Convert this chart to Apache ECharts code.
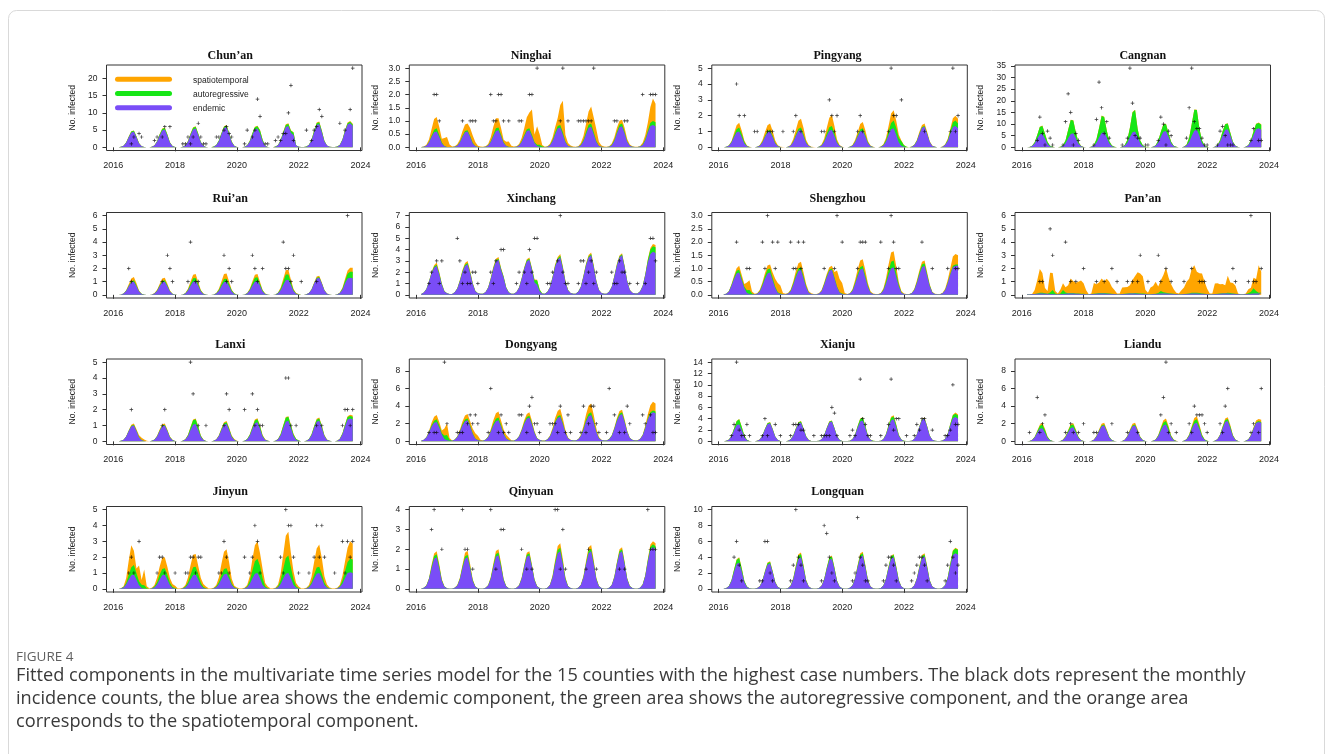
<!DOCTYPE html>
<html><head><meta charset="utf-8">
<script src="https://cdn.jsdelivr.net/npm/echarts@6/dist/echarts.min.js"></script>
<style>html,body{margin:0;padding:0;background:#fff}#c{width:1333px;height:754px}</style>
</head><body><div id="c"></div>
<script>
// Monthly series, March 2016 .. October 2023 (92 months). Rows: 2016(Mar-Dec), 2017..2022, 2023(Jan-Oct)
const xTicks = [2016, 2018, 2020, 2022, 2024];

const chunanEnd = [
 .05,.15,.45,1.35,2.9,4.3,4.5,2.9,1.1,.3,
 .1,.05,.05,.15,.5,1.6,3.4,4.9,5.2,3.4,1.3,.35,
 .1,.05,.05,.15,.55,1.65,3.6,5.2,5.5,3.6,1.4,.4,
 .1,.05,.05,.2,.6,1.8,3.8,5.6,5.9,3.8,1.5,.4,
 .1,.05,.05,.15,.55,1.65,3.6,5.2,5.5,4.0,1.8,.4,
 .1,.05,.05,.2,.6,1.9,4.0,5.9,6.2,4.2,3.6,.5,
 .15,.07,.07,.2,.7,2.0,4.4,6.5,6.8,4.4,1.7,.5,
 .15,.07,.07,.2,.7,2.1,4.6,6.6,7.0,6.3];
const chunanAR = [
 0,0,.02,.08,.2,.3,.3,.25,.1,.03,
 0,0,0,.01,.05,.15,.3,.4,.4,.3,.12,.03,
 0,0,0,.01,.05,.15,.3,.5,.5,.35,.12,.03,
 0,0,0,.01,.05,.15,.3,.4,.45,.35,.12,.03,
 0,0,0,.01,.05,.2,.4,.6,.6,.9,.4,.05,
 .02,0,0,.01,.05,.2,.4,.6,.6,.6,.7,.1,
 .02,0,0,.01,.05,.2,.4,.5,.5,.4,.15,.03,
 0,0,0,.01,.05,.15,.3,.4,.4,.35];
const chunanST = [
 0,0,0,.02,.05,.1,.1,.1,.05,.02,
 0,0,0,0,.02,.05,.1,.15,.15,.1,.05,.02,
 0,0,0,0,.02,.05,.1,.15,.15,.1,.05,.02,
 0,0,0,0,.02,.05,.1,.15,.15,.1,.05,.02,
 0,0,0,0,.02,.05,.1,.2,.2,.15,.05,.02,
 0,0,0,0,.02,.05,.1,.2,.2,.15,.1,.02,
 0,0,0,0,.02,.05,.1,.2,.2,.1,.05,.02,
 0,0,0,0,.02,.05,.1,.2,.25,.2];
const chunanObs = [
 0,0,0,0,0,1,3,0,4,3,
 0,0,0,0,2,3,0,3,6,0,6,0,
 0,0,0,1,1,3,1,3,0,7,3,1,
 1,0,0,0,3,3,0,5,6,4,3,0,
 0,0,0,1,5,0,3,5,14,9,0,1,
 1,0,0,2,3,2,4,4,10,18,2,0,
 0,0,0,5,0,2,5,6,11,9,0,0,
 0,0,0,0,7,0,5,0,11,23];
const chunanTicks = [0,5,10,15,20];

const ninghaiEnd = [
 .01,.02,.06,.18,.39,.57,.6,.39,.15,.04,
 .01,.01,.01,.02,.06,.18,.39,.57,.6,.39,.15,.04,
 .01,.01,.01,.02,.07,.2,.42,.62,.65,.42,.16,.05,
 .01,.01,.01,.02,.07,.2,.42,.62,.65,.42,.16,.05,
 .02,.01,.01,.02,.08,.23,.49,.71,.75,.49,.19,.05,
 .02,.01,.01,.02,.08,.23,.5,.74,.78,.5,.2,.05,
 .02,.01,.01,.02,.08,.24,.52,.76,.8,.52,.2,.06,
 .02,.01,.01,.03,.09,.26,.55,.81,.85,.8];
const ninghaiAR = [
 0,0,0,.02,.05,.1,.12,.08,.03,.01,
 0,0,0,0,.01,.02,.04,.05,.05,.04,.02,.01,
 0,0,0,0,.01,.03,.06,.1,.1,.06,.03,.01,
 .01,0,0,0,.01,.03,.05,.07,.07,.06,.03,.05,
 .08,.03,0,0,.01,.04,.07,.1,.1,.08,.03,.01,
 0,0,0,0,.02,.05,.08,.12,.12,.08,.04,.01,
 0,0,0,0,.02,.04,.07,.1,.1,.06,.02,.01,
 0,0,0,0,.02,.05,.08,.12,.15,.15];
const ninghaiST = [
 0,.01,.04,.1,.25,.4,.43,.3,.15,.3,
 .38,.1,.02,.02,.05,.1,.18,.25,.25,.3,.28,.15,
 .05,.02,.01,.02,.05,.15,.3,.38,.35,.25,.1,.15,
 .2,.05,.02,.02,.05,.12,.25,.45,.6,.95,.3,.7,
 .4,.05,.01,.02,.05,.1,.2,.3,.75,1.2,.25,.1,
 .05,.02,.01,.02,.06,.15,.3,.5,.65,.55,.45,.15,
 .05,.02,.01,.02,.05,.1,.15,.15,.15,.15,.1,.04,
 .02,.01,.01,.02,.06,.15,.3,.6,.85,.7];
const ninghaiObs = [
 0,0,0,0,0,2,2,1,0,0,
 0,0,0,0,0,0,1,0,0,1,1,1,
 0,0,0,0,0,2,1,1,2,2,1,0,
 1,0,0,0,1,1,0,0,2,2,0,3,
 0,0,0,0,0,0,0,0,1,3,0,1,
 0,0,0,1,1,1,1,1,1,3,0,0,
 0,0,0,0,0,1,1,0,0,1,1,0,
 0,0,0,0,2,0,0,2,2,2];
const ninghaiTicks = [0,0.5,1,1.5,2,2.5,3];

const pingyangEnd = [
 .01,.03,.1,.3,.65,.95,1,.65,.25,.07,
 .02,.01,.01,.03,.1,.3,.65,.95,1,.65,.25,.07,
 .02,.01,.01,.03,.11,.33,.72,1.05,1.1,.72,.28,.08,
 .02,.01,.01,.03,.11,.33,.72,1.05,1.1,.72,.28,.08,
 .02,.01,.01,.03,.1,.32,.68,1.0,1.05,.68,.26,.07,
 .02,.01,.01,.04,.12,.36,.78,1.14,1.2,.78,.3,.08,
 .03,.01,.01,.04,.13,.39,.85,1.24,1.3,.85,.33,.09,
 .03,.01,.01,.04,.14,.4,.88,1.28,1.35,1.2];
const pingyangAR = [
 0,0,.01,.03,.1,.2,.25,.2,.08,.02,
 0,0,0,0,.01,.03,.06,.1,.1,.08,.03,.01,
 0,0,0,0,.01,.04,.08,.13,.15,.1,.04,.01,
 0,0,0,0,.02,.06,.15,.22,.25,.18,.06,.02,
 0,0,0,0,.01,.04,.08,.13,.15,.1,.04,.01,
 0,0,0,0,.02,.08,.2,.4,.5,.45,.3,.3,
 .1,.02,0,0,.01,.02,.03,.05,.05,.03,.01,0,
 0,0,0,0,.02,.06,.15,.3,.35,.3];
const pingyangST = [
 0,0,.02,.06,.15,.25,.3,.2,.1,.03,
 .02,0,0,.01,.04,.12,.25,.35,.4,.3,.15,.05,
 .02,.01,0,.01,.05,.15,.3,.5,.55,.4,.15,.05,
 .02,.01,0,.01,.05,.15,.35,.6,.7,.45,.15,.05,
 .02,0,0,.01,.04,.1,.2,.35,.4,.3,.1,.03,
 .01,0,0,.01,.05,.15,.35,.6,.65,.45,.2,.05,
 .02,0,0,.01,.02,.05,.1,.12,.15,.1,.05,.02,
 .01,0,0,.01,.03,.08,.15,.25,.3,.3];
const pingyangObs = [
 0,0,0,0,0,4,2,0,2,0,
 0,0,1,1,0,0,0,1,1,1,0,0,
 0,1,0,0,0,1,2,0,1,0,0,0,
 0,0,0,0,1,1,0,3,2,1,2,0,
 0,0,0,0,0,0,1,2,1,0,0,0,
 0,0,0,0,0,0,1,5,2,2,0,3,
 0,0,0,0,0,0,0,0,1,0,0,0,
 0,0,0,0,0,0,1,5,1,2];
const pingyangTicks = [0,1,2,3,4,5];

const cangnanEnd = [
 .06,.17,.58,1.7,3.8,5.5,5.8,3.8,1.45,.4,
 .12,.06,.06,.18,.6,1.8,3.9,5.7,6.0,3.9,1.5,.42,
 .13,.07,.07,.2,.65,1.95,4.2,6.2,6.5,4.2,1.6,.45,
 .14,.07,.07,.2,.68,2.0,4.4,6.5,6.8,4.4,1.7,.48,
 .14,.07,.07,.21,.7,2.1,4.55,6.65,7.0,4.55,1.75,.49,
 .15,.08,.08,.23,.75,2.25,4.9,7.1,7.5,4.9,1.9,.5,
 .16,.08,.08,.23,.78,2.35,5.1,7.4,7.8,5.1,1.95,.55,
 .16,.08,.08,.25,.82,2.5,5.3,7.8,8.2,7.5];
const cangnanAR = [
 0,0,.1,.5,1.5,3.2,3.4,2.0,.8,.3,
 .1,0,0,.05,.3,1.2,3.5,6.0,5.5,2.5,.8,.2,
 .05,0,0,.05,.4,1.5,4.0,7.3,6.5,3.0,1.0,.3,
 .1,0,0,.05,.3,1.2,4.0,8.5,9.2,3.5,1.2,.4,
 .1,.05,0,.02,.2,.8,2.0,3.2,3.0,1.5,.6,.2,
 .05,0,0,.05,.4,1.8,5.0,9.0,8.5,3.0,1.0,.3,
 .1,0,0,.02,.2,.7,1.8,2.5,2.4,1.2,.4,.1,
 0,0,0,.02,.2,.6,1.5,2.2,2.3,2.2];
const cangnanST = [
 0,0,0,.02,.05,.1,.15,.1,.05,.02,
 0,0,0,0,.02,.05,.1,.15,.15,.1,.05,.02,
 0,0,0,0,.02,.05,.1,.15,.15,.1,.05,.02,
 0,0,0,0,.02,.05,.1,.15,.15,.1,.05,.02,
 0,0,0,0,.02,.05,.1,.15,.15,.1,.05,.02,
 0,0,0,0,.02,.05,.1,.15,.15,.1,.05,.02,
 0,0,0,0,.02,.05,.1,.15,.15,.1,.05,.02,
 0,0,0,0,.02,.05,.1,.15,.2,.2];
const cangnanObs = [
 0,0,0,0,3,13,6,1,7,4,
 1,0,0,0,1,11,23,15,1,6,3,0,
 0,0,0,0,1,12,28,17,6,11,4,0,
 0,0,0,1,0,4,34,19,5,4,4,0,
 1,1,0,0,0,3,13,10,1,7,5,0,
 0,0,0,0,4,17,34,11,8,8,4,1,
 1,0,0,0,1,7,9,5,1,1,1,0,
 0,0,0,0,0,3,8,0,3,3];
const cangnanTicks = [0,5,10,15,20,25,30,35];

const ruianEnd = [
 .01,.03,.1,.3,.65,.95,1.0,.65,.25,.07,
 .02,.01,.01,.03,.1,.3,.65,.95,1.0,.65,.25,.07,
 .02,.01,.01,.03,.1,.32,.68,1.0,1.05,.68,.26,.07,
 .02,.01,.01,.03,.1,.3,.65,.95,1.0,.65,.25,.07,
 .02,.01,.01,.03,.1,.32,.68,1.0,1.05,.68,.26,.07,
 .02,.01,.01,.03,.12,.35,.75,1.1,1.15,.75,.29,.08,
 .03,.01,.01,.04,.13,.39,.85,1.24,1.3,.85,.33,.09,
 .03,.01,.01,.04,.13,.39,.85,1.24,1.3,1.25];
const ruianAR = [
 0,0,0,.01,.03,.07,.1,.08,.03,.01,
 0,0,0,0,.01,.03,.06,.1,.1,.07,.03,.01,
 0,0,0,0,.02,.06,.15,.25,.22,.12,.05,.02,
 0,0,0,0,.02,.06,.15,.25,.22,.15,.08,.03,
 .01,0,0,0,.02,.07,.18,.3,.28,.15,.06,.02,
 .01,0,0,0,.03,.1,.25,.45,.4,.2,.08,.03,
 .02,0,0,0,0,.01,.03,.05,.05,.03,.01,0,
 0,0,0,0,.02,.08,.2,.35,.45,.5];
const ruianST = [
 0,0,.01,.04,.12,.22,.25,.15,.05,.01,
 0,0,0,0,.02,.06,.12,.18,.2,.12,.05,.01,
 0,0,0,0,.02,.08,.18,.28,.3,.18,.06,.02,
 0,0,0,0,.02,.1,.22,.38,.4,.2,.06,.02,
 0,0,0,0,.02,.07,.15,.22,.25,.15,.05,.02,
 0,0,0,0,.03,.1,.2,.32,.35,.2,.08,.03,
 .01,0,0,0,.01,.03,.06,.1,.1,.06,.02,.01,
 0,0,0,0,.02,.07,.15,.25,.3,.3];
const ruianObs = [
 0,0,0,0,2,1,0,0,0,0,
 0,0,0,0,0,0,0,1,0,3,2,1,
 0,0,0,0,0,1,4,0,1,1,0,0,
 0,0,0,0,0,0,0,3,1,2,1,0,
 0,0,0,0,0,0,3,2,1,0,2,0,
 0,0,0,0,0,0,4,2,2,1,3,0,
 0,1,0,0,0,0,0,1,0,0,0,0,
 0,0,0,0,0,0,0,6,0,0];
const ruianTicks = [0,1,2,3,4,5,6];

const xinchangEnd = [
 .08,.2,.5,1.15,1.9,2.4,2.55,1.8,.9,.3,
 .13,.08,.08,.22,.54,1.2,2.0,2.55,2.7,1.9,.95,.32,
 .15,.09,.09,.25,.62,1.4,2.3,2.95,3.1,2.2,1.5,.6,
 .2,.1,.09,.25,.62,1.4,2.3,2.95,3.1,2.2,1.1,.9,
 .3,.1,.1,.26,.66,1.5,2.5,3.1,3.3,2.3,1.15,.4,
 .17,.1,.1,.28,.7,1.6,2.6,3.3,3.5,2.45,1.2,.42,
 .17,.1,.1,.28,.7,1.6,2.6,3.3,3.5,2.45,1.2,.42,
 .19,.11,.11,.3,.76,1.7,2.85,3.6,3.8,3.7];
const xinchangAR = [
 0,0,.01,.03,.06,.1,.12,.1,.05,.02,
 0,0,0,.01,.02,.05,.08,.12,.12,.1,.06,.02,
 0,0,0,.01,.02,.05,.08,.1,.1,.1,.1,.05,
 .02,0,0,.01,.02,.05,.08,.1,.1,.1,.2,.4,
 .15,.02,0,.01,.02,.06,.1,.12,.15,.12,.06,.02,
 0,0,0,.01,.02,.05,.08,.1,.1,.08,.04,.01,
 0,0,0,.01,.02,.05,.07,.08,.08,.06,.03,.01,
 0,0,0,.01,.03,.08,.2,.4,.5,.5];
const xinchangST = [
 0,0,0,.02,.06,.12,.18,.12,.05,.02,
 0,0,0,0,.02,.06,.12,.15,.18,.12,.05,.02,
 0,0,0,0,.02,.05,.1,.13,.15,.1,.05,.02,
 0,0,0,0,.02,.04,.07,.1,.1,.08,.05,.03,
 .02,0,0,0,.02,.05,.1,.13,.15,.1,.05,.02,
 0,0,0,0,.02,.05,.1,.13,.15,.1,.05,.02,
 0,0,0,0,.02,.04,.07,.1,.1,.07,.03,.01,
 0,0,0,0,.02,.05,.1,.15,.2,.2];
const xinchangObs = [
 0,0,0,1,2,0,3,1,3,0,
 0,0,0,0,5,3,1,2,1,1,2,2,
 1,0,0,0,0,2,1,3,0,4,4,0,
 0,0,0,1,2,0,2,1,4,2,5,5,
 0,0,0,1,1,2,0,3,7,2,1,1,
 0,0,0,1,3,3,1,2,3,1,2,0,
 0,0,0,0,2,1,1,3,2,2,0,1,
 0,0,1,0,0,1,0,5,5,3];
const xinchangTicks = [0,1,2,3,4,5,6,7];

const shengzhouEnd = [
 .02,.04,.13,.34,.6,.81,.85,.55,.26,.07,
 .03,.02,.02,.04,.13,.34,.6,.81,.85,.55,.26,.07,
 .03,.02,.02,.05,.14,.38,.67,.9,.95,.62,.29,.08,
 .03,.02,.02,.05,.14,.38,.67,.9,.95,.62,.29,.08,
 .03,.02,.02,.05,.15,.4,.7,.95,1.0,.65,.3,.08,
 .03,.02,.02,.05,.16,.42,.74,1.0,1.05,.68,.32,.08,
 .03,.02,.02,.06,.17,.44,.77,1.05,1.1,.72,.33,.09,
 .03,.02,.02,.06,.17,.44,.77,1.05,1.1,1.1];
const shengzhouAR = [
 0,0,.01,.03,.06,.1,.1,.08,.05,.1,
 .15,.03,0,0,.02,.05,.1,.15,.15,.1,.05,.03,
 .02,0,0,0,.02,.05,.08,.1,.1,.08,.04,.01,
 0,0,0,0,.01,.03,.04,.05,.05,.05,.03,.02,
 .02,0,0,0,.02,.05,.08,.1,.1,.08,.04,.01,
 0,0,0,0,.03,.08,.15,.25,.25,.15,.06,.02,
 0,0,0,0,.02,.04,.08,.1,.1,.06,.03,.01,
 0,0,0,0,.01,.03,.04,.05,.05,.05];
const shengzhouST = [
 0,0,.01,.03,.06,.1,.15,.12,.1,.3,
 .37,.08,.02,.02,.04,.08,.12,.15,.15,.2,.3,.35,
 .3,.05,.02,.02,.04,.08,.15,.2,.2,.15,.08,.05,
 .03,.01,.01,.01,.03,.05,.08,.1,.1,.2,.6,.5,
 .4,.05,.01,.01,.04,.1,.18,.25,.25,.2,.1,.05,
 .02,.01,.01,.02,.05,.12,.25,.35,.35,.25,.1,.05,
 .02,.01,.01,.01,.03,.06,.08,.1,.1,.08,.04,.02,
 .01,.01,.01,.02,.05,.1,.2,.35,.4,.35];
const shengzhouObs = [
 0,0,0,0,0,2,0,0,0,1,
 1,0,0,0,0,2,1,3,0,2,1,2,
 0,0,0,0,2,1,1,2,1,2,0,0,
 0,0,0,0,0,1,0,0,0,1,3,0,
 2,0,0,0,0,0,1,2,2,2,0,0,
 0,0,0,2,0,0,1,3,2,1,1,0,
 0,0,0,0,0,0,0,2,0,0,0,1,
 0,0,0,0,0,1,0,0,1,1];
const shengzhouTicks = [0,0.5,1,1.5,2,2.5,3];

const pananEnd = [
 .05,.05,.06,.07,.08,.1,.1,.09,.08,.07,
 .06,.05,.05,.06,.07,.08,.1,.1,.1,.09,.08,.07,
 .06,.05,.05,.06,.07,.08,.1,.1,.1,.09,.08,.07,
 .06,.05,.05,.06,.07,.08,.1,.1,.1,.09,.08,.07,
 .06,.05,.05,.06,.07,.08,.1,.1,.1,.09,.08,.07,
 .06,.05,.05,.06,.07,.08,.1,.1,.1,.09,.08,.07,
 .06,.05,.05,.06,.07,.08,.1,.1,.1,.09,.08,.07,
 .06,.05,.05,.06,.07,.08,.1,.1,.1,.1];
const pananAR = [
 0,0,0,0,.02,.05,.05,.03,.01,.1,
 .3,.05,0,.05,.3,.1,.02,.03,.03,.02,.02,.02,
 .02,0,0,0,.02,.03,.03,.03,.03,.03,.02,.02,
 .01,0,0,0,.01,.02,.02,.02,.03,.03,.03,.03,
 .02,0,0,.01,.02,.05,.2,.1,.05,.03,.02,.01,
 0,0,0,0,.02,.03,.05,.05,.05,.04,.03,.02,
 .01,0,0,0,.01,.02,.02,.02,.05,.05,.02,.01,
 0,0,0,0,.05,.15,.4,.2,.05,.05];
const pananST = [
 0,0,0,.3,1.0,1.8,1.5,.4,.2,1.5,
 1.3,.2,.05,.3,.5,.4,.6,1.1,.9,.8,.9,1.0,
 .8,.3,0,.05,.8,.7,.8,1.1,.9,1.1,.9,.5,
 .3,.05,.05,.5,.5,.5,.6,1.0,1.3,1.6,1.5,1.3,
 .3,.1,.5,.6,.9,.5,.8,1.3,1.9,1.2,.7,.35,
 .1,.05,.3,.5,.9,1.1,1.8,2.1,1.6,1.5,1.5,.9,
 .4,.05,.05,.8,.8,.7,.7,.6,1.3,.8,.8,.6,
 .05,0,0,.05,.3,.3,.8,.9,2.1,1.6];
const pananObs = [
 0,0,0,0,0,1,1,0,0,5,
 3,0,0,0,0,4,0,1,0,1,0,0,
 2,0,0,0,0,1,0,0,1,0,0,2,
 0,1,0,0,0,1,0,1,0,1,3,0,
 0,1,0,0,0,3,1,0,2,0,1,0,
 0,0,0,1,0,0,2,0,0,1,1,1,
 0,0,0,0,0,0,0,0,0,0,2,1,
 0,0,0,0,1,6,1,1,0,2];
const pananTicks = [0,1,2,3,4,5,6];

const lanxiEnd = [
 .01,.03,.1,.3,.65,.95,1.0,.65,.25,.07,
 .02,.01,.01,.03,.1,.3,.65,.95,1.0,.65,.25,.07,
 .02,.01,.01,.03,.11,.33,.72,1.05,1.1,.72,.28,.08,
 .02,.01,.01,.03,.11,.33,.72,1.05,1.1,.72,.28,.08,
 .02,.01,.01,.04,.12,.36,.78,1.14,1.2,.78,.3,.08,
 .03,.01,.01,.04,.13,.39,.85,1.24,1.3,.85,.33,.09,
 .03,.01,.01,.04,.13,.39,.85,1.24,1.3,.85,.33,.09,
 .03,.01,.01,.04,.15,.44,.94,1.38,1.45,1.4];
const lanxiAR = [
 0,0,0,.01,.02,.04,.05,.04,.02,.01,
 0,0,0,0,.01,.02,.04,.05,.05,.04,.02,.01,
 0,0,0,0,.02,.06,.15,.28,.3,.18,.06,.02,
 0,0,0,0,.01,.03,.06,.1,.1,.08,.04,.02,
 0,0,0,0,.02,.05,.1,.18,.2,.15,.05,.02,
 0,0,0,0,.02,.06,.14,.25,.25,.15,.1,.05,
 .02,0,0,0,.01,.04,.08,.12,.15,.1,.04,.01,
 0,0,0,0,.02,.05,.1,.15,.15,.15];
const lanxiST = [
 0,0,0,.01,.03,.05,.08,.08,.12,.15,
 .1,.02,0,0,.01,.03,.05,.08,.08,.06,.04,.02,
 0,0,0,0,.01,.02,.03,.05,.05,.05,.03,.02,
 0,0,0,0,.01,.02,.04,.06,.08,.06,.05,.04,
 .02,0,0,0,.01,.02,.04,.06,.06,.05,.05,.03,
 0,0,0,0,.01,.02,.03,.04,.04,.05,.05,.03,
 .01,0,0,0,.01,.02,.04,.06,.06,.05,.03,.01,
 0,0,0,0,.01,.02,.04,.06,.08,.08];
const lanxiObs = [
 0,0,0,0,0,2,0,0,0,0,
 0,0,0,0,0,0,0,1,2,0,0,0,
 0,0,0,0,0,0,5,3,0,1,0,0,
 1,0,0,0,0,0,0,1,3,2,0,0,
 0,0,0,2,0,0,3,1,2,1,1,0,
 0,0,0,0,0,0,0,4,4,1,0,1,
 0,0,0,0,0,0,0,1,0,1,0,0,
 0,0,0,0,0,1,2,2,1,2];
const lanxiTicks = [0,1,2,3,4,5];

const dongyangEnd = [
 .07,.18,.44,1.0,1.65,2.1,2.2,1.55,.77,.26,
 .12,.07,.07,.19,.48,1.08,1.8,2.28,2.4,1.68,.84,.29,
 .12,.07,.07,.19,.48,1.08,1.8,2.28,2.4,1.68,.84,.29,
 .13,.08,.08,.22,.54,1.2,2.0,2.56,2.7,1.9,.95,.32,
 .14,.08,.08,.22,.56,1.26,2.1,2.66,2.8,1.96,.98,.34,
 .15,.09,.09,.24,.6,1.35,2.25,2.85,3.0,2.1,1.05,.36,
 .15,.09,.09,.25,.62,1.4,2.3,2.95,3.1,2.17,1.08,.37,
 .16,.1,.1,.26,.66,1.5,2.5,3.1,3.3,3.2];
const dongyangAR = [
 0,0,.02,.06,.15,.25,.3,.25,.15,.4,
 .6,.1,0,.01,.03,.08,.15,.2,.2,.15,.08,.03,
 .02,0,0,.01,.03,.1,.2,.3,.3,.2,.1,.05,
 .02,0,0,.01,.03,.07,.15,.2,.2,.15,.06,.02,
 .01,0,0,.01,.03,.07,.15,.2,.2,.15,.06,.02,
 .01,0,0,.01,.04,.1,.2,.3,.3,.2,.08,.03,
 .01,0,0,.01,.03,.07,.15,.2,.2,.12,.05,.02,
 .01,0,0,.01,.03,.07,.12,.2,.2,.2];
const dongyangST = [
 0,.01,.04,.12,.3,.45,.5,.4,.3,.8,
 1.3,.2,.02,.02,.06,.15,.3,.45,.5,.45,.5,.6,
 .5,.1,.02,.02,.08,.2,.4,.6,.7,.5,.4,.4,
 .3,.05,.02,.02,.05,.12,.25,.35,.4,.3,.15,.05,
 .02,.01,.01,.02,.06,.2,.4,.6,.7,.5,.25,.08,
 .03,.01,.01,.02,.1,.3,.6,.9,1.0,.7,.35,.1,
 .03,.01,.01,.02,.05,.1,.2,.3,.3,.2,.1,.03,
 .02,.01,.01,.02,.06,.2,.45,.8,1.0,.9];
const dongyangObs = [
 0,0,0,1,0,1,1,0,0,9,
 2,0,0,0,1,1,1,0,2,3,2,3,
 2,0,0,0,1,6,0,0,1,3,1,2,
 1,0,0,0,3,3,0,1,4,5,2,2,
 1,0,0,0,2,2,2,1,4,0,1,3,
 1,0,0,0,1,4,1,2,4,4,2,1,
 0,0,1,6,0,3,0,1,0,1,4,2,
 0,0,0,0,3,2,0,3,1,1];
const dongyangTicks = [0,2,4,6,8];

const xianjuEnd = [
 .03,.09,.3,.9,1.95,2.85,3.0,1.95,.75,.21,
 .06,.03,.03,.1,.32,.96,2.08,3.04,3.2,2.08,.8,.22,
 .07,.03,.03,.1,.33,1.0,2.15,3.14,3.3,2.15,.83,.23,
 .07,.04,.04,.11,.35,1.05,2.28,3.33,3.5,2.28,.88,.25,
 .07,.04,.04,.11,.37,1.11,2.4,3.52,3.7,2.4,.93,.26,
 .08,.04,.04,.12,.39,1.17,2.54,3.7,3.9,2.54,.98,.27,
 .08,.04,.04,.12,.4,1.2,2.6,3.8,4.0,2.6,1.0,.28,
 .09,.04,.04,.13,.43,1.29,2.8,4.1,4.3,4.0];
const xianjuAR = [
 0,0,.02,.1,.3,.7,.9,.6,.25,.08,
 .02,0,0,0,.02,.05,.1,.15,.15,.1,.05,.02,
 0,0,0,0,.02,.06,.12,.2,.2,.12,.05,.02,
 0,0,0,0,.02,.05,.1,.15,.15,.1,.05,.02,
 0,0,0,0,.03,.1,.25,.45,.5,.35,.12,.04,
 .01,0,0,0,.03,.1,.25,.45,.5,.35,.12,.04,
 .01,0,0,0,.01,.03,.06,.1,.1,.06,.02,.01,
 0,0,0,0,.03,.1,.25,.5,.6,.55];
const xianjuST = [
 0,0,0,.01,.03,.05,.05,.04,.02,.01,
 0,0,0,0,.01,.02,.04,.05,.05,.04,.02,.01,
 0,0,0,0,.01,.03,.06,.1,.1,.06,.03,.01,
 0,0,0,0,.01,.02,.04,.05,.05,.04,.02,.01,
 0,0,0,0,.01,.02,.04,.05,.05,.04,.02,.01,
 0,0,0,0,.01,.04,.1,.18,.2,.12,.05,.02,
 0,0,0,0,.01,.03,.06,.1,.1,.06,.02,.01,
 0,0,0,0,.01,.03,.06,.1,.2,.2];
const xianjuObs = [
 0,0,0,1,3,14,2,1,1,3,
 1,0,0,0,0,1,4,1,0,0,3,0,
 1,0,0,0,1,3,3,3,2,2,0,0,
 0,1,0,0,1,1,1,1,6,5,1,0,
 0,0,0,1,2,1,0,11,4,3,1,1,
 0,0,0,1,0,0,3,11,2,4,4,0,
 0,1,0,0,1,3,2,4,4,0,0,2,
 0,0,0,0,1,1,2,10,3,3];
const xianjuTicks = [0,2,4,6,8,10,12,14];

const lianduEnd = [
 .02,.05,.15,.45,.98,1.43,1.5,.98,.38,.1,
 .03,.02,.02,.05,.16,.48,1.04,1.52,1.6,1.04,.4,.11,
 .04,.02,.02,.05,.18,.54,1.17,1.71,1.8,1.17,.45,.13,
 .04,.02,.02,.05,.18,.54,1.17,1.71,1.8,1.17,.45,.13,
 .04,.02,.02,.06,.19,.57,1.24,1.8,1.9,1.24,.48,.13,
 .04,.02,.02,.06,.21,.63,1.37,2.0,2.1,1.37,.53,.15,
 .05,.02,.02,.07,.23,.69,1.5,2.19,2.3,1.5,.58,.16,
 .04,.02,.02,.07,.22,.66,1.43,2.09,2.2,2.1];
const lianduAR = [
 0,0,.01,.05,.15,.3,.4,.3,.12,.04,
 .01,0,0,0,.02,.07,.15,.3,.3,.2,.08,.02,
 0,0,0,0,.01,.03,.06,.1,.1,.06,.03,.01,
 0,0,0,0,.01,.03,.06,.1,.1,.06,.03,.01,
 0,0,0,0,.02,.08,.2,.35,.4,.3,.12,.04,
 .01,0,0,0,.02,.08,.2,.35,.4,.3,.15,.05,
 .02,0,0,0,.01,.05,.12,.22,.25,.2,.08,.03,
 0,0,0,0,.01,.03,.05,.08,.1,.1];
const lianduST = [
 0,0,.01,.03,.08,.15,.2,.15,.06,.02,
 .01,0,0,0,.02,.05,.1,.15,.15,.1,.05,.02,
 0,0,0,0,.02,.06,.12,.18,.2,.12,.05,.02,
 0,0,0,0,.02,.06,.12,.18,.2,.15,.06,.02,
 0,0,0,0,.02,.07,.15,.25,.3,.2,.08,.03,
 .01,0,0,0,.03,.08,.18,.3,.35,.25,.1,.03,
 .01,0,0,0,.02,.05,.1,.18,.2,.15,.06,.02,
 0,0,0,0,.02,.06,.12,.2,.25,.25];
const lianduObs = [
 0,1,0,0,5,1,2,3,0,0,
 0,0,0,0,0,1,0,2,1,0,1,0,
 2,0,0,0,1,1,0,0,0,0,0,2,
 0,0,0,0,0,1,0,0,0,1,0,0,
 0,0,0,0,0,0,3,5,9,1,2,0,
 1,0,0,0,0,2,1,4,3,3,3,2,
 1,0,0,0,0,2,1,4,6,0,0,0,
 0,0,0,0,0,1,2,0,1,6];
const lianduTicks = [0,2,4,6,8];

const jinyunEnd = [
 .01,.03,.09,.27,.59,.86,.9,.59,.23,.06,
 .02,.01,.01,.03,.09,.27,.59,.86,.9,.59,.23,.06,
 .02,.01,.01,.03,.09,.27,.59,.86,.9,.59,.23,.06,
 .02,.01,.01,.03,.1,.29,.62,.9,.95,.62,.24,.07,
 .02,.01,.01,.03,.1,.3,.65,.95,1.0,.65,.25,.07,
 .02,.01,.01,.03,.1,.3,.65,.95,1.0,.65,.25,.07,
 .02,.01,.01,.03,.1,.3,.65,.95,1.0,.65,.25,.07,
 .02,.01,.01,.03,.11,.32,.68,1.0,1.05,1.0];
const jinyunAR = [
 0,0,.02,.1,.3,.5,.6,.4,.25,.2,
 .2,.05,0,.01,.05,.15,.3,.4,.4,.3,.15,.05,
 .03,0,0,.01,.05,.15,.3,.5,.5,.35,.15,.05,
 .02,0,0,.01,.04,.12,.25,.35,.35,.25,.1,.03,
 .02,0,0,.01,.05,.2,.5,.8,.9,.8,.4,.1,
 .03,0,0,.01,.06,.25,.6,1.0,1.1,.7,.35,.1,
 .03,0,0,.01,.04,.12,.25,.4,.4,.3,.15,.05,
 .02,0,0,.01,.05,.2,.45,.7,.85,.85];
const jinyunST = [
 0,0,.05,.3,.9,1.4,.9,.3,1.0,.3,
 1.0,.1,.02,.03,.1,.3,.5,.7,.7,.5,.3,.2,
 .15,.03,.02,.03,.1,.3,.6,.8,.8,.5,.3,.2,
 .1,.03,.02,.03,.1,.3,.7,1.1,1.2,.8,.3,.1,
 .05,.02,.02,.03,.1,.3,.7,1.0,1.1,.8,.6,.2,
 .1,.02,.02,.03,.12,.4,.9,1.4,1.5,.9,.5,.2,
 .1,.02,.02,.03,.1,.35,.8,1.2,1.4,1.0,.4,.15,
 .05,.02,.02,.03,.1,.3,.6,.9,1.1,1.0];
const jinyunObs = [
 0,0,0,0,1,2,1,0,3,0,
 0,0,0,0,0,1,2,2,1,0,0,0,
 1,0,0,0,1,1,2,2,1,2,2,0,
 0,0,0,0,0,1,1,3,2,1,0,0,
 0,0,0,2,0,1,2,4,3,1,0,0,
 0,0,0,0,0,2,1,5,4,4,2,0,
 1,0,0,0,1,0,2,4,2,4,2,0,
 0,0,1,0,0,3,1,3,2,3];
const jinyunTicks = [0,1,2,3,4,5];

const qinyuanEnd = [
 .02,.05,.16,.48,1.04,1.52,1.6,1.04,.4,.11,
 .03,.02,.02,.05,.16,.48,1.04,1.52,1.6,1.04,.4,.11,
 .03,.02,.02,.05,.17,.51,1.1,1.62,1.7,1.1,.43,.12,
 .03,.02,.02,.05,.17,.51,1.1,1.62,1.7,1.1,.43,.12,
 .04,.02,.02,.06,.19,.57,1.24,1.8,1.9,1.24,.48,.13,
 .04,.02,.02,.06,.19,.57,1.24,1.8,1.9,1.24,.48,.13,
 .04,.02,.02,.06,.19,.57,1.24,1.8,1.9,1.24,.48,.13,
 .04,.02,.02,.06,.21,.63,1.37,2.0,2.1,2.0];
const qinyuanAR = [
 0,0,.01,.03,.08,.14,.15,.1,.04,.01,
 0,0,0,0,.01,.03,.07,.12,.12,.08,.03,.01,
 0,0,0,0,.01,.04,.08,.13,.13,.1,.04,.01,
 0,0,0,0,.01,.03,.06,.1,.1,.07,.03,.01,
 0,0,0,0,.01,.04,.1,.16,.18,.12,.05,.01,
 0,0,0,0,.01,.03,.07,.12,.12,.08,.03,.01,
 0,0,0,0,.01,.03,.06,.1,.1,.07,.03,.01,
 0,0,0,0,.01,.03,.07,.12,.15,.15];
const qinyuanST = [
 0,0,.01,.03,.08,.13,.15,.1,.04,.01,
 0,0,0,0,.02,.05,.1,.18,.2,.12,.05,.01,
 0,0,0,0,.02,.05,.1,.16,.17,.1,.04,.01,
 0,0,0,0,.01,.03,.06,.1,.1,.06,.03,.01,
 0,0,0,0,.02,.06,.12,.2,.22,.15,.05,.01,
 0,0,0,0,.02,.05,.1,.18,.2,.12,.05,.01,
 0,0,0,0,.01,.03,.06,.1,.1,.06,.03,.01,
 0,0,0,0,.01,.03,.07,.12,.15,.15];
const qinyuanObs = [
 0,0,0,0,3,4,0,0,2,0,
 0,0,0,0,0,0,4,2,2,0,1,0,
 0,0,0,0,0,4,0,1,0,3,3,0,
 0,0,0,0,0,2,0,1,0,1,0,0,
 0,0,0,0,0,0,4,4,1,3,1,0,
 0,0,0,0,0,0,1,2,0,0,1,0,
 0,0,0,0,0,0,0,1,0,1,0,0,
 0,0,0,0,0,0,4,2,2,2];
const qinyuanTicks = [0,1,2,3,4];

const longquanEnd = [
 .03,.1,.33,.99,2.15,3.14,3.3,2.15,.83,.23,
 .06,.03,.03,.1,.32,.96,2.08,3.04,3.2,2.08,.8,.22,
 .08,.04,.04,.12,.4,1.2,2.6,3.8,4.0,2.6,1.0,.28,
 .08,.04,.04,.11,.38,1.14,2.47,3.61,3.8,2.47,.95,.27,
 .08,.04,.04,.13,.42,1.26,2.73,3.99,4.2,2.73,1.05,.29,
 .08,.04,.04,.12,.4,1.2,2.6,3.8,4.0,2.6,1.0,.28,
 .08,.04,.04,.12,.41,1.23,2.67,3.9,4.1,2.67,1.03,.29,
 .09,.05,.05,.14,.45,1.35,2.93,4.28,4.5,4.3];
const longquanAR = [
 0,0,.02,.08,.25,.5,.6,.4,.15,.05,
 .02,0,0,0,.02,.06,.12,.2,.2,.12,.05,.02,
 0,0,0,0,.03,.1,.22,.38,.4,.25,.1,.03,
 0,0,0,0,.02,.07,.16,.28,.3,.2,.08,.02,
 0,0,0,0,.02,.07,.16,.28,.3,.2,.08,.02,
 0,0,0,0,.02,.07,.16,.28,.3,.2,.08,.02,
 0,0,0,0,.02,.06,.13,.22,.25,.15,.06,.02,
 0,0,0,0,.03,.1,.25,.5,.6,.6];
const longquanST = [
 0,0,0,.02,.05,.1,.1,.08,.03,.01,
 0,0,0,0,.01,.03,.06,.1,.1,.06,.03,.01,
 0,0,0,0,.02,.06,.12,.2,.2,.12,.05,.02,
 0,0,0,0,.01,.03,.06,.1,.1,.06,.03,.01,
 0,0,0,0,.02,.06,.12,.2,.2,.12,.05,.02,
 0,0,0,0,.01,.03,.06,.1,.1,.06,.03,.01,
 0,0,0,0,.01,.04,.08,.15,.15,.1,.04,.01,
 0,0,0,0,.01,.03,.06,.1,.1,.1];
const longquanObs = [
 0,0,0,0,4,6,3,1,0,0,
 0,0,0,0,1,1,6,6,2,1,0,0,
 0,0,0,0,1,3,10,4,3,1,0,0,
 0,0,0,0,1,8,7,4,2,1,0,0,
 0,0,0,0,1,2,9,4,3,1,1,0,
 0,0,0,0,1,3,4,4,3,1,0,0,
 0,0,0,1,2,3,4,4,3,1,0,0,
 0,0,0,0,1,3,6,4,2,3];
const longquanTicks = [0,2,4,6,8,10];

const panels = [
 ['Chun\u2019an', chunanEnd, chunanAR, chunanST, chunanObs, chunanTicks],
 ['Ninghai', ninghaiEnd, ninghaiAR, ninghaiST, ninghaiObs, ninghaiTicks],
 ['Pingyang', pingyangEnd, pingyangAR, pingyangST, pingyangObs, pingyangTicks],
 ['Cangnan', cangnanEnd, cangnanAR, cangnanST, cangnanObs, cangnanTicks],
 ['Rui\u2019an', ruianEnd, ruianAR, ruianST, ruianObs, ruianTicks],
 ['Xinchang', xinchangEnd, xinchangAR, xinchangST, xinchangObs, xinchangTicks],
 ['Shengzhou', shengzhouEnd, shengzhouAR, shengzhouST, shengzhouObs, shengzhouTicks],
 ['Pan\u2019an', pananEnd, pananAR, pananST, pananObs, pananTicks],
 ['Lanxi', lanxiEnd, lanxiAR, lanxiST, lanxiObs, lanxiTicks],
 ['Dongyang', dongyangEnd, dongyangAR, dongyangST, dongyangObs, dongyangTicks],
 ['Xianju', xianjuEnd, xianjuAR, xianjuST, xianjuObs, xianjuTicks],
 ['Liandu', lianduEnd, lianduAR, lianduST, lianduObs, lianduTicks],
 ['Jinyun', jinyunEnd, jinyunAR, jinyunST, jinyunObs, jinyunTicks],
 ['Qinyuan', qinyuanEnd, qinyuanAR, qinyuanST, qinyuanObs, qinyuanTicks],
 ['Longquan', longquanEnd, longquanAR, longquanST, longquanObs, longquanTicks]
];
const legendNames = ['spatiotemporal', 'autoregressive', 'endemic'];
const captionLabel = 'FIGURE 4';
const captionLines = [
 'Fitted components in the multivariate time series model for the 15 counties with the highest case numbers. The black dots represent the monthly',
 'incidence counts, the blue area shows the endemic component, the green area shows the autoregressive component, and the orange area',
 'corresponds to the spatiotemporal component.'
];

// ---- layout / style ----
const FIRST_TIME = 2016 + 2 / 12;   // March 2016
const COL_ORANGE = '#FFA500', COL_GREEN = '#16E616', COL_PURPLE = '#7A4DF7';
const colLeft = [106.5, 409.3, 711.8, 1015];
const rowTop = [65, 212.5, 359, 506.5];
const titleY = [55.5, 198.5, 344.5, 492];
const titleDx = [-4, -6, -2, 0];
const BOX_W = 255.5, BOX_H = 85.5;
const SANS = 'Liberation Sans, Arial, sans-serif';
const plusSymbol = 'path://M2,0h1v2h2v1h-2v2h-1v-2h-2v-1h2z';

const grid = [], xAxis = [], yAxis = [], series = [], graphic = [];

panels.forEach((p, k) => {
  const [name, en, ar, st, obs, ticks] = p;
  const col = k % 4, row = Math.floor(k / 4);
  const left = colLeft[col], top = rowTop[row];
  const t = en.map((_, i) => FIRST_TIME + i / 12);
  const lvl1 = en.map((v, i) => v + ar[i]);
  const lvl2 = lvl1.map((v, i) => v + st[i]);
  const peak = Math.max(...lvl2, ...obs);
  const dec = ticks.some(v => v % 1 !== 0) ? 1 : 0;

  grid.push({left: left, top: top, width: BOX_W, height: BOX_H, show: true,
    borderColor: '#333', borderWidth: 1, backgroundColor: 'transparent'});
  xAxis.push({type: 'value', gridIndex: k, min: 2015.78, max: 2024.05,
    axisLine: {show: false}, splitLine: {show: false},
    axisTick: {show: true, customValues: xTicks, length: 4, lineStyle: {color: '#333', width: 1}},
    axisLabel: {customValues: xTicks, formatter: v => String(Math.round(v)), fontSize: 9,
      color: '#222', margin: 11, fontFamily: SANS}});
  yAxis.push({type: 'value', gridIndex: k, min: -0.04 * peak, max: 1.04 * peak,
    axisLine: {show: false}, splitLine: {show: false},
    axisTick: {show: true, customValues: ticks, length: 4, lineStyle: {color: '#333', width: 1}},
    axisLabel: {customValues: ticks, formatter: v => Number(v).toFixed(dec), fontSize: 8.5,
      color: '#222', margin: 9, fontFamily: SANS}});

  const mk = (arr) => arr.map((v, i) => [t[i], v]);
  const area = (nm, data, color) => ({
    name: nm, type: 'line', xAxisIndex: k, yAxisIndex: k, data: data,
    symbol: 'none', showSymbol: false, silent: true, animation: false,
    lineStyle: {width: 0, opacity: 0},
    areaStyle: {color: color, opacity: 1}
  });
  series.push(area(legendNames[0], mk(lvl2), COL_ORANGE));
  series.push(area(legendNames[1], mk(lvl1), COL_GREEN));
  series.push(area(legendNames[2], mk(en), COL_PURPLE));
  const pts = [];
  obs.forEach((v, i) => { if (v > 0) pts.push([t[i], v]); });
  series.push({type: 'scatter', xAxisIndex: k, yAxisIndex: k, data: pts,
    symbol: plusSymbol, symbolSize: 3.6, itemStyle: {color: '#000'},
    silent: true, animation: false, z: 5});

  graphic.push({type: 'text', x: left + BOX_W / 2 + titleDx[col], y: titleY[row],
    style: {text: name, fill: '#111', align: 'center', verticalAlign: 'middle',
      font: 'bold 12px "Liberation Serif", "Times New Roman", serif'}});
  graphic.push({type: 'text', x: left - 34, y: top + BOX_H / 2, rotation: Math.PI / 2,
    style: {text: 'No. infected', fill: '#222', align: 'center', verticalAlign: 'middle',
      font: '8.5px ' + SANS}});
});

// legend inside first panel
const legendColors = [COL_ORANGE, COL_GREEN, COL_PURPLE];
const legendY = [79.3, 93.5, 107.7];
legendNames.forEach((nm, i) => {
  graphic.push({type: 'line', shape: {x1: 117.5, y1: legendY[i], x2: 169.5, y2: legendY[i]},
    style: {stroke: legendColors[i], lineWidth: 5, lineCap: 'round'}, z: 10});
  graphic.push({type: 'text', x: 193, y: legendY[i] + 1,
    style: {text: nm, fill: '#222', align: 'left', verticalAlign: 'middle', font: '8.5px ' + SANS}, z: 10});
});

// frame and caption
graphic.push({type: 'rect', shape: {x: 8.5, y: 10.5, width: 1316, height: 770, r: 8},
  style: {fill: 'none', stroke: '#d9d9d9', lineWidth: 1}, z: -1});
graphic.push({type: 'text', x: 16, y: 657,
  style: {text: captionLabel, fill: '#5f5f5f', align: 'left', verticalAlign: 'middle',
    font: '13.5px "Open Sans", "Noto Sans", sans-serif'}});
captionLines.forEach((ln, i) => {
  graphic.push({type: 'text', x: 16, y: 675.5 + i * 23,
    style: {text: ln, fill: '#3a3a3a', align: 'left', verticalAlign: 'middle',
      font: '18.2px "Open Sans", "Noto Sans", sans-serif'}});
});

const chart = echarts.init(document.getElementById('c'), null, {renderer: 'canvas'});
chart.setOption({animation: false, backgroundColor: '#fff', grid, xAxis, yAxis, series, graphic});
</script></body></html>
